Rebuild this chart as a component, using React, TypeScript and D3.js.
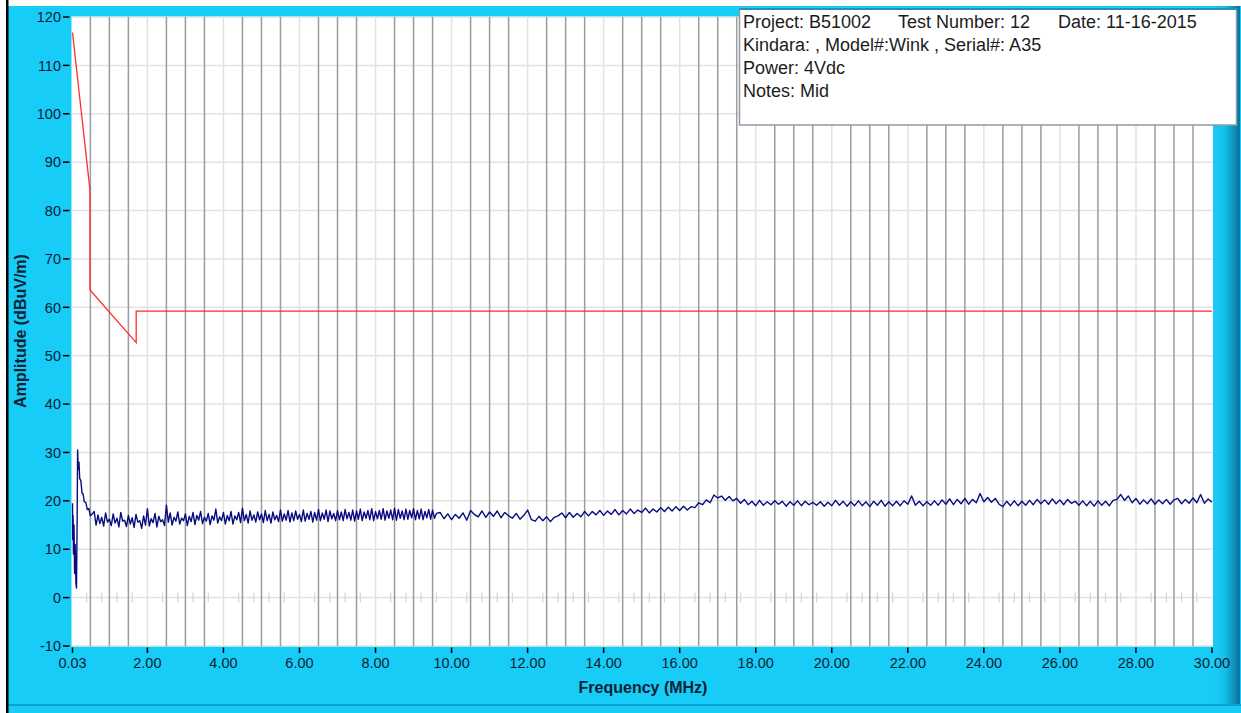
import * as d3 from 'd3';
import { useEffect, useRef } from 'react';

const colors = {
  panel: '#17cdf7',
  panelDark: '#0b6f95',
  panelLine: '#0aa3d0',
  text: '#0c2235',
  majorGrid: '#e2e2e2',
  minorGrid: '#9c9c9c',
  zeroTick: '#d6d6d6',
  limit: '#ff2a2a',
  trace: '#0b0b80',
};

// Limit line corners (MHz / dBuV/m)
const limitFreqs = [0.03, 0.49, 0.49, 1.705, 1.705, 30];
const limitLevels = [116.8, 84.2, 63.6, 52.7, 59.2, 59.2];

// Start of the sweep, below 0.6 MHz
const startFreqs = [
  0.03, 0.035, 0.045, 0.055, 0.07, 0.085, 0.1, 0.12, 0.135, 0.15, 0.165, 0.18,
  0.2, 0.22, 0.25, 0.28, 0.31, 0.34, 0.38, 0.42, 0.46, 0.5, 0.55,
];
const startLevels = [
  19.5, 12, 17, 9, 15, 5, 11, 3, 2, 14, 30.5, 26.5, 28, 24.6, 24.2, 21.6, 21.4,
  19.8, 19.7, 18.2, 18.4, 16.9, 17.3,
];

// 0.60 .. 9.60 MHz, one reading every 0.05 MHz
const denseStart = 0.6;
const denseStep = 0.05;
const denseLevels = [
  17.8, 15.0, 17.1, 15.3, 16.6, 14.8, 17.5, 15.6, 16.2, 14.9,
  17.3, 15.4, 16.4, 14.6, 17.6, 15.8, 16.0, 14.7, 17.0, 15.2,
  16.5, 14.5, 17.2, 15.6, 15.9, 14.3, 16.9, 15.0, 18.4, 14.8,
  16.3, 15.5, 17.4, 14.6, 16.8, 15.7, 16.1, 14.9, 19.1, 15.6,
  17.5, 15.0, 16.6, 15.8, 17.7, 15.2, 16.4, 15.9, 17.3, 14.9,
  16.8, 15.7, 17.6, 15.1, 17.0, 16.0, 17.8, 15.3, 16.6, 15.8,
  17.4, 15.1, 16.9, 16.0, 18.3, 15.4, 16.7, 15.9, 17.6, 15.2,
  17.0, 15.9, 17.8, 15.2, 16.9, 16.1, 17.6, 15.5, 18.5, 15.9,
  17.2, 15.4, 17.9, 16.0, 17.1, 15.6, 17.7, 16.1, 17.3, 15.5,
  18.0, 15.9, 17.2, 15.4, 17.7, 16.1, 17.0, 15.7, 18.1, 15.8,
  17.3, 16.0, 18.0, 15.6, 17.5, 15.9, 17.9, 16.2, 17.2, 15.7,
  18.1, 15.8, 17.4, 16.2, 17.8, 15.6, 17.6, 16.0, 18.2, 15.9,
  17.5, 16.2, 18.1, 15.7, 17.9, 16.3, 17.4, 15.9, 18.0, 16.1,
  17.7, 15.9, 18.2, 16.3, 17.6, 16.0, 18.1, 15.8, 17.9, 16.2,
  18.3, 15.9, 17.7, 16.4, 18.0, 16.1, 18.4, 15.9, 17.8, 16.3,
  18.0, 16.2, 18.4, 16.0, 17.9, 16.4, 18.1, 16.1, 18.5, 16.0,
  18.2, 16.4, 17.9, 16.1, 18.3, 16.2, 18.0, 16.5, 18.4, 16.1,
  18.0, 16.3, 18.3, 16.1, 17.8, 16.5, 18.2, 16.2, 18.1, 16.4,
  17.4,
];

// 9.7 .. 30.0 MHz, one reading every 0.1 MHz
const sparseStart = 9.7;
const sparseStep = 0.1;
const sparseLevels = [
  17.6, 16.3, 17.3, 16.1, 17.2, 16.4, 17.5, 16.0, 18.0, 17.2,
  16.7, 17.9, 16.6, 17.7, 16.8, 17.9, 16.5, 17.6, 16.9, 16.4,
  17.4, 16.2, 17.0, 18.1, 16.1, 15.8, 16.8, 15.9, 16.7, 15.7,
  16.6, 16.9, 17.5, 16.5, 17.6, 16.6, 17.4, 16.7, 17.8, 16.9,
  17.8, 17.1, 18.0, 17.0, 17.9, 17.2, 18.2, 17.1, 18.0, 17.3,
  18.3, 17.4, 18.1, 17.6, 18.5, 17.5, 18.3, 17.7, 18.6, 17.8,
  18.7, 17.9, 18.8, 18.0, 18.9, 18.1, 18.8, 18.6, 19.6, 19.2,
  20.2, 19.6, 21.2, 20.6, 21.0, 20.1, 20.9, 20.0, 20.5, 19.5,
  20.3, 19.2, 19.9, 19.0, 20.1, 19.1, 19.8, 19.2, 20.0, 19.3,
  19.9, 18.9, 19.8, 19.1, 20.0, 19.0, 19.9, 19.2, 19.7, 19.1,
  19.8, 18.9, 19.7, 19.0, 20.1, 19.1, 19.9, 18.9, 19.8, 19.0,
  20.0, 19.0, 19.8, 18.8, 19.9, 19.1, 20.1, 18.9, 19.8, 19.0,
  19.9, 19.0, 20.0, 19.3, 21.0, 19.1, 19.9, 19.0, 19.8, 19.1,
  20.0, 19.1, 20.2, 19.3, 20.4, 19.2, 20.3, 19.4, 20.5, 19.3,
  20.3, 19.6, 21.5, 19.8, 20.7, 19.7, 20.5, 19.3, 18.8, 19.9,
  19.0, 20.0, 19.0, 19.9, 19.1, 20.1, 19.2, 20.3, 19.4, 20.2,
  19.3, 20.4, 19.4, 20.2, 19.2, 20.3, 19.5, 19.9, 19.1, 20.0,
  19.0, 19.9, 18.9, 20.0, 19.1, 19.9, 19.0, 20.1, 20.3, 21.3,
  20.1, 21.0, 19.6, 20.5, 19.3, 20.2, 19.4, 20.4, 19.3, 20.2,
  19.4, 20.3, 19.3, 20.2, 20.5, 19.4, 20.3, 19.5, 20.6, 19.6,
  21.3, 19.5, 20.4, 19.7,
];

const yTicks = [-10, 0, 10, 20, 30, 40, 50, 60, 70, 80, 90, 100, 110, 120];
const xTicks = [0.03, 2, 4, 6, 8, 10, 12, 14, 16, 18, 20, 22, 24, 26, 28, 30];
const xTickLabels = [
  '0.03', '2.00', '4.00', '6.00', '8.00', '10.00', '12.00', '14.00', '16.00',
  '18.00', '20.00', '22.00', '24.00', '26.00', '28.00', '30.00',
];

const infoLines = [
  ['Project: B51002', 'Test Number: 12', 'Date: 11-16-2015'],
  ['Kindara: , Model#:Wink , Serial#: A35'],
  ['Power: 4Vdc'],
  ['Notes: Mid'],
];

const font = '"Liberation Sans", Arial, sans-serif';

export default function App() {
  const ref = useRef<SVGSVGElement | null>(null);

  useEffect(() => {
    if (!ref.current) {
      return;
    }

    const width = 1241;
    const height = 713;
    const plot = { left: 71.5, right: 1213, top: 16.5, bottom: 646.5 };

    const x = d3.scaleLinear().domain([0.03, 30]).range([72.5, 1212]);
    const y = d3.scaleLinear().domain([-10, 120]).range([646, 17]);

    const svg = d3
      .select(ref.current)
      .attr('width', width)
      .attr('height', height)
      .style('font-family', font);

    svg.selectAll('*').remove();

    const defs = svg.append('defs');
    const grad = defs
      .append('linearGradient')
      .attr('id', 'edge')
      .attr('x1', '0%')
      .attr('x2', '100%');
    grad.append('stop').attr('offset', '0%').attr('stop-color', colors.panel);
    grad.append('stop').attr('offset', '45%').attr('stop-color', '#14bfe9');
    grad.append('stop').attr('offset', '100%').attr('stop-color', colors.panelDark);

    defs
      .append('clipPath')
      .attr('id', 'plot-clip')
      .append('rect')
      .attr('x', plot.left)
      .attr('y', plot.top)
      .attr('width', plot.right - plot.left)
      .attr('height', plot.bottom - plot.top);

    // window frame
    svg.append('rect').attr('width', width).attr('height', height).attr('fill', '#fff');
    svg
      .append('rect')
      .attr('x', 8)
      .attr('y', 6)
      .attr('width', width - 8)
      .attr('height', height - 6)
      .attr('fill', colors.panel);
    svg
      .append('rect')
      .attr('x', plot.right)
      .attr('y', 6)
      .attr('width', width - plot.right - 1)
      .attr('height', 698)
      .attr('fill', 'url(#edge)');
    svg
      .append('rect')
      .attr('x', 8)
      .attr('y', 704)
      .attr('width', width - 8)
      .attr('height', 2)
      .attr('fill', colors.panelLine);
    svg.append('rect').attr('x', 6).attr('y', 0).attr('width', 2.5).attr('height', height).attr('fill', '#000');

    // plot area
    svg
      .append('rect')
      .attr('x', plot.left)
      .attr('y', plot.top)
      .attr('width', plot.right - plot.left)
      .attr('height', plot.bottom - plot.top)
      .attr('fill', '#fff');

    const grid = svg.append('g').attr('clip-path', 'url(#plot-clip)');

    grid
      .selectAll('line.h')
      .data(yTicks)
      .join('line')
      .attr('x1', plot.left)
      .attr('x2', plot.right)
      .attr('y1', (d) => y(d))
      .attr('y2', (d) => y(d))
      .attr('stroke', colors.majorGrid)
      .attr('stroke-width', 1.5);

    grid
      .selectAll('line.major')
      .data(xTicks.slice(1, -1))
      .join('line')
      .attr('x1', (d) => x(d))
      .attr('x2', (d) => x(d))
      .attr('y1', plot.top)
      .attr('y2', plot.bottom)
      .attr('stroke', colors.majorGrid)
      .attr('stroke-width', 1.5);

    const minorLines = d3
      .range(1, 60)
      .map((i) => i * 0.5)
      .filter((v) => Math.round(v * 2) % 4 !== 0);

    grid
      .selectAll('line.minor')
      .data(minorLines)
      .join('line')
      .attr('x1', (d) => x(d))
      .attr('x2', (d) => x(d))
      .attr('y1', plot.top)
      .attr('y2', plot.bottom)
      .attr('stroke', colors.minorGrid)
      .attr('stroke-width', 1.5);

    // little minor ticks on the 0 dB line
    const zeroTicks = d3
      .range(1, 75)
      .map((i) => i * 0.4)
      .filter((v) => Math.round(v * 10) % 20 !== 0);

    grid
      .selectAll('line.zero')
      .data(zeroTicks)
      .join('line')
      .attr('x1', (d) => x(d))
      .attr('x2', (d) => x(d))
      .attr('y1', y(0) - 5)
      .attr('y2', y(0) + 5)
      .attr('stroke', colors.zeroTick)
      .attr('stroke-width', 1.2);

    // traces
    const limitPts: [number, number][] = limitFreqs.map((f, i) => [f, limitLevels[i]]);
    const tracePts: [number, number][] = [
      ...startFreqs.map((f, i) => [f, startLevels[i]] as [number, number]),
      ...denseLevels.map((v, i) => [denseStart + i * denseStep, v] as [number, number]),
      ...sparseLevels.map((v, i) => [sparseStart + i * sparseStep, v] as [number, number]),
    ];

    const line = d3
      .line<[number, number]>()
      .x((d) => x(d[0]))
      .y((d) => y(d[1]));

    grid
      .append('path')
      .attr('d', line(tracePts))
      .attr('fill', 'none')
      .attr('stroke', colors.trace)
      .attr('stroke-width', 1.4)
      .attr('stroke-linejoin', 'round');

    grid
      .append('path')
      .attr('d', line(limitPts))
      .attr('fill', 'none')
      .attr('stroke', colors.limit)
      .attr('stroke-width', 1.3);

    // y axis
    const yAxis = svg.append('g');
    yAxis
      .selectAll('line')
      .data(yTicks)
      .join('line')
      .attr('x1', 63)
      .attr('x2', 69.5)
      .attr('y1', (d) => y(d))
      .attr('y2', (d) => y(d))
      .attr('stroke', '#000')
      .attr('stroke-width', 1.5);
    yAxis
      .selectAll('text')
      .data(yTicks)
      .join('text')
      .attr('x', 61)
      .attr('y', (d) => y(d))
      .attr('dy', '0.36em')
      .attr('text-anchor', 'end')
      .attr('font-size', 14.5)
      .attr('fill', colors.text)
      .text((d) => d);

    // x axis
    const xAxis = svg.append('g');
    xAxis
      .selectAll('line')
      .data(xTicks)
      .join('line')
      .attr('x1', (d) => x(d))
      .attr('x2', (d) => x(d))
      .attr('y1', 647.5)
      .attr('y2', 653)
      .attr('stroke', '#000')
      .attr('stroke-width', 1.5);
    xAxis
      .selectAll('text')
      .data(xTicks)
      .join('text')
      .attr('x', (d) => x(d))
      .attr('y', 668)
      .attr('text-anchor', 'middle')
      .attr('font-size', 14.5)
      .attr('fill', colors.text)
      .text((d, i) => xTickLabels[i]);

    svg
      .append('text')
      .attr('x', 643)
      .attr('y', 693)
      .attr('text-anchor', 'middle')
      .attr('font-size', 16)
      .attr('font-weight', 'bold')
      .attr('fill', colors.text)
      .text('Frequency (MHz)');

    svg
      .append('text')
      .attr('transform', 'translate(26,331) rotate(-90)')
      .attr('text-anchor', 'middle')
      .attr('font-size', 16)
      .attr('font-weight', 'bold')
      .attr('fill', colors.text)
      .text('Amplitude (dBuV/m)');

    // info box
    const box = svg.append('g');
    box
      .append('rect')
      .attr('x', 739.5)
      .attr('y', 9)
      .attr('width', 497)
      .attr('height', 116)
      .attr('fill', '#fff')
      .attr('stroke', '#8d9aa3')
      .attr('stroke-width', 1.5);
    box
      .append('line')
      .attr('x1', 739.5)
      .attr('x2', 1236.5)
      .attr('y1', 9)
      .attr('y2', 9)
      .attr('stroke', '#2b8fb0')
      .attr('stroke-width', 2);

    const colX = [743, 898, 1058];
    infoLines.forEach((parts, row) => {
      parts.forEach((t, col) => {
        box
          .append('text')
          .attr('x', colX[col])
          .attr('y', 28 + row * 23)
          .attr('font-size', 18)
          .attr('fill', '#1c1c1c')
          .text(t);
      });
    });
  }, []);

  return (
    <div style={{ position: 'absolute', left: 0, top: 0 }}>
      <svg ref={ref} />
    </div>
  );
}
